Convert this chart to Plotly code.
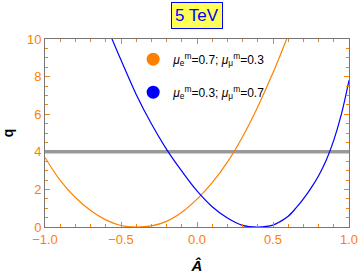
import plotly.graph_objects as go

# Orange curve: mu_e^m=0.7; mu_mu^m=0.3
x_orange = [-1.0, -0.9, -0.8, -0.7, -0.6, -0.5, -0.4, -0.3, -0.2, -0.1, 0.0, 0.1, 0.2, 0.3, 0.4, 0.5, 0.6, 0.62]
q_orange = [3.70, 2.48, 1.57, 0.88, 0.38, 0.08, 0.0, 0.06, 0.30, 0.78, 1.48, 2.36, 3.45, 4.80, 6.40, 8.20, 10.2, 10.6]

# Blue curve: mu_e^m=0.3; mu_mu^m=0.7
x_blue = [-0.58, -0.5, -0.4, -0.3, -0.2, -0.1, 0.0, 0.1, 0.2, 0.3, 0.4, 0.5, 0.55, 0.6, 0.65, 0.7, 0.75, 0.8, 0.85, 0.9, 0.95, 1.0]
q_blue = [10.4, 8.88, 7.05, 5.49, 4.13, 2.97, 1.92, 1.08, 0.48, 0.09, 0.0, 0.10, 0.30, 0.57, 1.0, 1.50, 2.07, 2.73, 3.55, 4.62, 6.0, 7.8]

threshold = 4
labels = ["<i>μ</i><sub>e</sub><sup>m</sup>=0.7; <i>μ</i><sub>μ</sub><sup>m</sup>=0.3",
          "<i>μ</i><sub>e</sub><sup>m</sup>=0.3; <i>μ</i><sub>μ</sub><sup>m</sup>=0.7"]
colors = ["#FF8000", "#0000FF"]
title_text = "5 TeV"

ORANGE = "#FF8000"

fig = go.Figure()
fig.add_trace(go.Scatter(x=[-1, 1], y=[threshold, threshold], mode="lines",
                         line=dict(color="#999999", width=3.5), showlegend=False, hoverinfo="skip"))
fig.add_trace(go.Scatter(x=x_orange, y=q_orange, mode="lines",
                         line=dict(color=colors[0], width=1.2, shape="spline", smoothing=1.0),
                         showlegend=False))
fig.add_trace(go.Scatter(x=x_blue, y=q_blue, mode="lines",
                         line=dict(color=colors[1], width=1.2, shape="spline", smoothing=1.0),
                         showlegend=False))
for i, (lab, c) in enumerate(zip(labels, colors)):
    fig.add_trace(go.Scatter(x=[None], y=[None], mode="markers", marker=dict(color=c, size=13),
                             name=lab, showlegend=True, legendgroup=f"g{i}"))

fig.update_layout(
    width=360, height=280,
    margin=dict(l=45, r=11, t=39, b=53),
    paper_bgcolor="white", plot_bgcolor="white",
    font=dict(family="Liberation Sans, Arial", size=13, color="black"),
    legend=dict(x=0.29, y=0.97, xanchor="left", yanchor="top", bgcolor="rgba(0,0,0,0)",
                font=dict(size=12, color="black"), tracegroupgap=14, itemsizing="trace"),
    annotations=[dict(text=title_text, xref="paper", yref="paper", x=0.5, y=1.0, yshift=24,
                      xanchor="center", yanchor="middle", showarrow=False,
                      font=dict(size=17, color="#0000FF"), bgcolor="#FFFF55",
                      bordercolor="#0000FF", borderwidth=1, borderpad=3)],
)
fig.update_xaxes(range=[-1, 1], tickvals=[-1, -0.5, 0, 0.5, 1], ticktext=["−1.0", "−0.5", "0.0", "0.5", "1.0"],
                 showgrid=False, zeroline=False, showline=True, linecolor="#777777", linewidth=1, mirror="ticks",
                 ticks="inside", ticklen=5, tickcolor=ORANGE, tickfont=dict(color=ORANGE, size=13),
                 minor=dict(dtick=0.1, ticks="inside", ticklen=3, tickcolor=ORANGE, showgrid=False),
                 automargin=False,
                 title=dict(text="<b><i>Â</i></b>", font=dict(size=15), standoff=14))
fig.update_yaxes(range=[0, 10], tickvals=[0, 2, 4, 6, 8, 10],
                 showgrid=False, zeroline=False, showline=True, linecolor="#777777", linewidth=1, mirror="ticks",
                 ticks="inside", ticklen=5, tickcolor=ORANGE, tickfont=dict(color=ORANGE, size=13),
                 minor=dict(dtick=0.5, ticks="inside", ticklen=3, tickcolor=ORANGE, showgrid=False),
                 automargin=False,
                 title=dict(text="<b>q</b>", font=dict(size=14), standoff=10))

fig.write_html("out.html", config={"displayModeBar": False},
               post_script="document.body.style.margin='0';")
